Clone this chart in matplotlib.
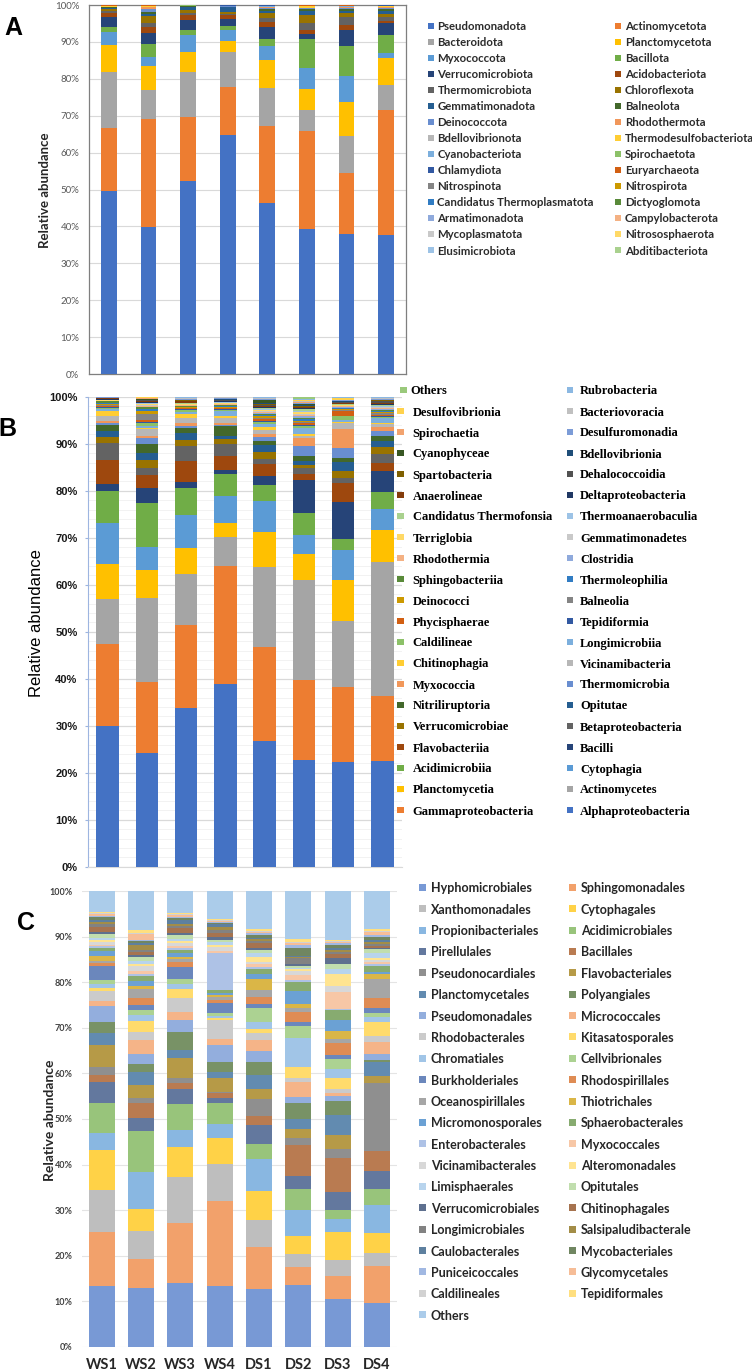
import numpy as np
import matplotlib
matplotlib.use("Agg")
import matplotlib.pyplot as plt
from matplotlib.patches import Rectangle
from matplotlib.ticker import MultipleLocator, FuncFormatter
from matplotlib import colors as mcolors

samples = ["WS1", "WS2", "WS3", "WS4", "DS1", "DS2", "DS3", "DS4"]

# ---------------- Panel A : phyla ----------------
phyla = ["Pseudomonadota", "Actinomycetota", "Bacteroidota", "Planctomycetota", "Myxococcota",
         "Bacillota", "Verrucomicrobiota", "Acidobacteriota", "Thermomicrobiota", "Chloroflexota",
         "Gemmatimonadota", "Balneolota", "Deinococcota", "Rhodothermota", "Bdellovibrionota",
         "Thermodesulfobacteriota", "Cyanobacteriota", "Spirochaetota", "Chlamydiota", "Euryarchaeota",
         "Nitrospinota", "Nitrospirota", "Candidatus Thermoplasmatota", "Dictyoglomota", "Armatimonadota",
         "Campylobacterota", "Mycoplasmatota", "Nitrososphaerota", "Elusimicrobiota", "Abditibacteriota"]

phylum_WS1 = [49.7, 17.1, 15.3, 7.4, 3.3, 1.5, 2.7, 1.1, 0.5, 0.45, 0.4, 0.15, 0.08, 0.07, 0.05,
              0.2, 0.04, 0.03, 0.03, 0.02, 0.02, 0.02, 0.02, 0.01, 0.01, 0.01, 0.01, 0.01, 0.01, 0.01]
phylum_WS2 = [40.0, 29.3, 7.9, 6.3, 2.5, 3.5, 3.0, 1.6, 1.2, 1.8, 0.6, 0.6, 0.7, 0.6, 0.1,
              0.1, 0.08, 0.05, 0.04, 0.03, 0.02, 0.02, 0.02, 0.01, 0.01, 0.01, 0.01, 0.01, 0.01, 0.01]
phylum_WS3 = [52.3, 17.4, 12.4, 5.3, 4.6, 1.5, 2.6, 1.3, 0.5, 0.9, 0.9, 0.1, 0.05, 0.05, 0.02,
              0.02, 0.1, 0.02, 0.02, 0.01, 0.01, 0.01, 0.01, 0.01, 0.01, 0.01, 0.01, 0.01, 0.01, 0.01]
phylum_WS4 = [64.7, 13.0, 9.5, 3.0, 3.1, 1.1, 1.8, 1.1, 0.4, 0.5, 1.3, 0.1, 0.08, 0.05, 0.05,
              0.05, 0.03, 0.02, 0.02, 0.02, 0.01, 0.01, 0.01, 0.01, 0.01, 0.01, 0.01, 0.01, 0.01, 0.01]
phylum_DS1 = [46.4, 21.0, 10.1, 7.8, 3.7, 2.0, 3.3, 1.2, 1.2, 1.2, 0.7, 0.5, 0.2, 0.2, 0.1,
              0.05, 0.3, 0.05, 0.03, 0.02, 0.02, 0.01, 0.01, 0.01, 0.01, 0.01, 0.01, 0.01, 0.01, 0.01]
phylum_DS2 = [39.2, 26.7, 5.6, 5.8, 5.7, 7.7, 1.3, 1.2, 2.0, 1.9, 1.3, 0.5, 0.1, 0.1, 0.1,
              0.4, 0.05, 0.1, 0.05, 0.03, 0.02, 0.01, 0.01, 0.01, 0.01, 0.01, 0.01, 0.01, 0.01, 0.01]
phylum_DS3 = [37.9, 16.6, 9.8, 9.2, 7.3, 7.9, 4.3, 1.6, 2.1, 0.9, 0.6, 0.6, 0.2, 0.3, 0.1,
              0.05, 0.05, 0.2, 0.05, 0.03, 0.02, 0.01, 0.01, 0.01, 0.01, 0.01, 0.01, 0.01, 0.01, 0.01]
phylum_DS4 = [37.7, 33.9, 6.7, 7.3, 1.5, 4.8, 3.1, 0.7, 1.0, 1.0, 0.8, 0.4, 0.3, 0.3, 0.1,
              0.1, 0.1, 0.05, 0.03, 0.02, 0.02, 0.01, 0.01, 0.01, 0.01, 0.01, 0.01, 0.01, 0.01, 0.01]

# ---------------- Panel B : classes ----------------
classes = ["Alphaproteobacteria", "Gammaproteobacteria", "Actinomycetes", "Planctomycetia", "Cytophagia",
           "Acidimicrobiia", "Bacilli", "Flavobacteriia", "Betaproteobacteria", "Verrucomicrobiae",
           "Opitutae", "Nitriliruptoria", "Thermomicrobia", "Myxococcia", "Vicinamibacteria",
           "Chitinophagia", "Longimicrobiia", "Caldilineae", "Tepidiformia", "Phycisphaerae",
           "Balneolia", "Deinococci", "Thermoleophilia", "Sphingobacteriia", "Clostridia",
           "Rhodothermia", "Gemmatimonadetes", "Terriglobia", "Thermoanaerobaculia", "Candidatus Thermofonsia",
           "Deltaproteobacteria", "Anaerolineae", "Dehalococcoidia", "Spartobacteria", "Bdellovibrionia",
           "Cyanophyceae", "Desulfuromonadia", "Spirochaetia", "Bacteriovoracia", "Desulfovibrionia",
           "Rubrobacteria", "Others"]

class_WS1 = [30.0, 17.5, 9.4, 7.5, 8.8, 6.7, 1.5, 5.2, 3.7, 1.3, 1.2, 1.2, 0.5, 0.5, 1.0, 1.0, 0.4, 0.3,
             0.2, 0.3, 0.2, 0.2, 0.2, 0.3,
             0.05, 0.05, 0.05, 0.05, 0.05, 0.05, 0.15, 0.15, 0.05, 0.05, 0.05, 0.05, 0.03, 0.03, 0.03,
             0.03, 0.03, 0.03]
class_WS2 = [24.2, 15.2, 17.9, 5.9, 4.9, 9.3, 3.2, 2.8, 1.6, 1.6, 1.6, 1.9, 1.1, 0.6, 1.4, 0.3, 0.4, 0.5,
             0.4, 0.4, 1.3, 0.5, 0.5,
             0.3, 0.2, 0.2, 0.2, 0.2, 0.1, 0.1, 0.2, 0.2, 0.1, 0.1, 0.1, 0.1, 0.1, 0.1, 0.1, 0.05, 0.05, 0.1]
class_WS3 = [33.8, 17.7, 10.9, 5.4, 7.0, 5.9, 1.2, 4.5, 3.2, 1.3, 1.4, 1.1, 0.5, 0.5, 1.1, 0.8, 0.5, 0.4,
             0.2, 0.15, 0.15, 0.1, 0.15, 0.1, 0.1, 0.1, 0.1, 0.1, 0.1, 0.1, 0.1, 0.3, 0.1, 0.1, 0.1, 0.1,
             0.1, 0.1, 0.1, 0.1, 0.1, 0.1]
class_WS4 = [38.9, 25.0, 6.3, 3.0, 5.7, 4.6, 0.9, 2.9, 2.6, 1.2, 0.6, 2.0, 0.3, 0.5, 1.0, 0.5, 1.0,
             0.2, 0.15, 0.2, 0.15, 0.15, 0.15, 0.2, 0.1, 0.15, 0.1, 0.15, 0.1, 0.1, 0.1, 0.15, 0.1, 0.1,
             0.1, 0.1, 0.1, 0.1, 0.1, 0.05, 0.05, 0.05]
class_DS1 = [26.8, 20.0, 17.0, 7.6, 6.5, 3.4, 2.1, 2.4, 1.1, 1.5, 1.4, 0.9, 0.9, 0.7, 0.7, 0.8, 0.5, 0.5,
             0.3, 0.3, 0.3, 0.3, 0.2, 0.3, 0.2, 0.2, 0.2, 0.3, 0.2, 0.2, 0.2, 0.2, 0.2, 0.2, 0.2, 0.8,
             0.1, 0.1, 0.1, 0.1, 0.1, 0.1]
class_DS2 = [22.8, 16.9, 21.4, 5.6, 4.0, 4.7, 6.9, 1.4, 1.3, 0.5, 1.0, 0.9, 2.2, 1.6, 0.5, 0.5, 1.2,
             0.4, 0.3, 0.3, 0.3, 0.3, 0.3, 0.3, 0.3, 0.3, 0.3, 0.3, 0.3, 0.3, 0.2, 0.2, 0.2, 0.2, 0.2,
             0.2, 0.2, 0.2, 0.2, 0.2, 0.2, 0.5]
class_DS3 = [22.3, 15.9, 14.0, 8.7, 6.4, 2.2, 7.9, 4.1, 1.1, 1.5, 1.9, 0.7, 2.3, 3.9, 1.3, 0.3, 0.4, 0.7,
             0.2, 1.0,
             0.2, 0.2, 0.15, 0.15, 0.15, 0.15, 0.1, 0.1, 0.1, 0.1, 0.15, 0.15, 0.1, 0.1, 0.1, 0.1, 0.1,
             0.1, 0.1, 0.4, 0.1, 0.1]
class_DS4 = [22.6, 13.7, 28.7, 6.8, 4.4, 3.7, 4.4, 1.6, 1.9, 1.6, 1.2, 1.2, 1.0, 0.9, 0.5, 0.4, 0.9,
             0.3, 0.2, 0.3, 0.3, 0.2, 0.2, 0.2, 0.2, 0.2, 0.2, 0.2, 0.2, 0.2, 0.2, 0.2, 0.4, 0.1, 0.1,
             0.1, 0.1, 0.1, 0.1, 0.1, 0.1, 0.1]

# ---------------- Panel C : orders ----------------
orders = ["Hyphomicrobiales", "Sphingomonadales", "Xanthomonadales", "Cytophagales", "Propionibacteriales",
          "Acidimicrobiales", "Pirellulales", "Bacillales", "Pseudonocardiales", "Flavobacteriales",
          "Planctomycetales", "Polyangiales", "Pseudomonadales", "Micrococcales", "Rhodobacterales",
          "Kitasatosporales", "Chromatiales", "Cellvibrionales", "Burkholderiales", "Rhodospirillales",
          "Oceanospirillales", "Thiotrichales", "Micromonosporales", "Sphaerobacterales", "Enterobacterales",
          "Myxococcales", "Vicinamibacterales", "Alteromonadales", "Limisphaerales", "Opitutales",
          "Verrucomicrobiales", "Chitinophagales", "Longimicrobiales", "Salsipaludibacterale", "Caulobacterales",
          "Mycobacteriales", "Puniceicoccales", "Glycomycetales", "Caldilineales", "Tepidiformales", "Others"]

order_WS1 = [13.4, 11.8, 9.3, 8.6, 3.8, 6.6, 4.7, 1.4, 1.7, 4.9,
             2.6, 2.5, 3.5, 1.1, 2.2, 0.7, 0.8, 0.9, 3.1, 0.7,
             0.4, 1.0, 1.1, 0.7, 0.4, 0.3, 0.6, 0.4, 0.5, 0.9,
             0.5, 1.0, 0.7, 0.3, 0.5, 0.6, 0.4, 0.3, 0.2, 0.2, 4.7]
order_WS2 = [13.0, 6.3, 6.1, 4.9, 8.1, 9.0, 2.9, 3.1, 1.3, 2.7,
             3.0, 1.6, 2.2, 3.1, 1.8, 2.4, 1.3, 1.1, 1.1, 1.6,
             1.8, 0.8, 1.1, 1.1, 0.5, 0.5, 1.1, 0.4, 0.7, 1.0,
             0.3, 0.8, 0.3, 1.1, 0.5, 0.4, 0.3, 1.3, 0.1, 0.7, 8.6]
order_WS3 = [14.1, 13.2, 9.9, 6.6, 3.7, 5.8, 3.2, 1.3, 1.2, 4.3,
             1.8, 3.9, 2.7, 1.8, 3.1, 1.8, 1.1, 1.3, 2.6, 1.1,
             0.5, 0.6, 0.9, 0.5, 0.6, 0.3, 0.7, 0.4, 0.4, 0.9,
             0.5, 1.0, 0.5, 0.4, 0.9, 0.4, 0.4, 0.3, 0.2, 0.2, 4.9]
order_WS4 = [13.4, 18.6, 8.2, 5.7, 2.9, 4.6, 1.3, 0.9, 0.4, 3.0,
             1.4, 2.2, 3.6, 1.3, 4.2, 0.4, 0.5, 0.7, 2.1, 0.8,
             0.6, 0.5, 0.4, 0.6, 8.0, 0.5, 0.9, 0.4, 0.7, 0.4,
             0.8, 0.7, 0.7, 0.7, 0.6, 0.3, 0.2, 0.2, 0.2, 0.2, 6.2]
order_DS1 = [12.8, 9.1, 5.9, 6.4, 7.0, 3.3, 4.1, 2.1, 3.6, 2.2,
             3.1, 3.0, 2.3, 2.4, 1.5, 1.0, 1.5, 3.1, 0.8, 1.5,
             1.6, 2.4, 1.1, 1.0, 0.5, 0.8, 0.4, 1.0, 0.9, 0.6,
             0.6, 1.1, 0.4, 0.3, 0.4, 0.5, 0.4, 0.4, 0.2, 0.4, 8.3]
order_DS2 = [13.6, 3.9, 3.0, 3.8, 5.8, 4.5, 3.0, 6.7, 1.5, 1.9,
             2.2, 3.6, 1.4, 3.3, 0.9, 2.4, 6.3, 2.6, 0.9, 2.2,
             0.9, 0.8, 2.9, 2.0, 0.4, 1.1, 0.9, 0.3, 0.4, 0.3,
             0.4, 0.2, 1.1, 0.4, 0.2, 1.6, 0.7, 0.4, 0.4, 0.5, 10.6]
order_DS3 = [10.5, 5.1, 3.5, 6.1, 2.8, 2.0, 3.9, 7.6, 1.9, 3.0,
             4.5, 3.1, 1.1, 0.7, 0.7, 2.6, 1.9, 2.1, 0.9, 2.6,
             0.9, 1.9, 2.3, 2.2, 0.2, 3.8, 1.3, 2.6, 1.0, 1.2,
             1.4, 0.7, 0.5, 0.4, 0.4, 0.7, 0.4, 0.3, 0.2, 0.3, 10.7]
order_DS4 = [9.7, 8.0, 2.9, 4.5, 6.0, 3.6, 3.9, 4.4, 14.8, 1.6,
             3.2, 0.3, 1.3, 2.7, 1.4, 3.0, 1.1, 0.8, 1.2, 2.2,
             4.0, 1.3, 0.4, 1.3, 0.3, 0.6, 0.4, 0.3, 1.3, 0.7,
             0.4, 0.3, 0.4, 0.6, 0.3, 0.8, 0.4, 0.5, 0.3, 0.4, 8.4]

# Office-style series palette
palette = ['#4472C4', '#ED7D31', '#A5A5A5', '#FFC000', '#5B9BD5', '#70AD47',
           '#264478', '#9E480E', '#636363', '#997300', '#255E91', '#43682B',
           '#698ED0', '#F1975A', '#B7B7B7', '#FFCD33', '#7CAFDD', '#8CC168',
           '#3259A2', '#D25F12', '#848484', '#CC9900', '#317CC3', '#598A39',
           '#8FAADC', '#F4B183', '#C9C9C9', '#FFD966', '#9DC3E6', '#A9D18E',
           '#203864', '#843C0B', '#525252', '#7F6000', '#1F4E79', '#385723',
           '#7C9CD7', '#F2A36F', '#C0C0C0', '#FFD24D', '#8BB8E2', '#9AC97B']


def soften(c, a=0.72):
    r, g, b = mcolors.to_rgb(c)
    return (r * a + 1 - a, g * a + 1 - a, b * a + 1 - a)


palette_soft = [soften(c) for c in palette]

W, H = 752, 1371
fig = plt.figure(figsize=(W / 100, H / 100), dpi=100)
LATO = ['Lato', 'DejaVu Sans']
ARIAL = ['Liberation Sans', 'DejaVu Sans']
TIMES = ['Liberation Serif', 'DejaVu Serif']


def fx(x):
    return x / W


def fy(y):
    return 1 - y / H


def px_axes(left, top, right, bottom):
    return fig.add_axes([left / W, 1 - bottom / H, (right - left) / W, (bottom - top) / H])


def draw_stack(ax, rows, colors, width):
    M = np.array(rows, dtype=float)
    M = M / M.sum(axis=1, keepdims=True) * 100.0
    x = np.arange(M.shape[0])
    bottom = np.zeros(M.shape[0])
    for j in range(M.shape[1]):
        ax.bar(x, M[:, j], width=width, bottom=bottom, color=colors[j], linewidth=0, zorder=3)
        bottom += M[:, j]
    ax.set_xlim(-0.5, M.shape[0] - 0.5)
    ax.set_ylim(0, 100)


pct = FuncFormatter(lambda v, p: f"{v:.0f}%")


def legend_entry(xm, xt, y, size, fc, label, **kw):
    fig.add_artist(Rectangle((fx(xm - size / 2), fy(y + size / 2)), size / W, size / H,
                             transform=fig.transFigure, facecolor=fc, edgecolor='none'))
    fig.text(fx(xt), fy(y), label, ha='left', va='center_baseline', **kw)


# ================= Panel A =================
axA = px_axes(89, 5, 406, 374)
draw_stack(axA, [phylum_WS1, phylum_WS2, phylum_WS3, phylum_WS4,
                 phylum_DS1, phylum_DS2, phylum_DS3, phylum_DS4], palette, 0.40)
axA.yaxis.set_major_locator(MultipleLocator(10))
axA.yaxis.set_major_formatter(pct)
axA.grid(axis='y', color='#D9D9D9', lw=0.8, zorder=0)
axA.set_xticks([])
axA.tick_params(axis='y', length=0, pad=7, labelsize=7, labelcolor='#595959')
for t in axA.get_yticklabels():
    t.set_family(LATO)
for s in axA.spines.values():
    s.set_color('#7F7F7F')
    s.set_linewidth(0.9)

for i, name in enumerate(phyla):
    r, c = divmod(i, 2)
    legend_entry([431, 618][c], [437.5, 625][c], 25.6 + r * 16.03, 6, palette[i], name,
                 fontsize=8.2, family=LATO, fontweight='bold', color='#2B2B2B')

fig.text(fx(45), fy(190), 'Relative abundance', rotation=90, ha='center', va='center',
         fontsize=9.5, family=LATO, fontweight='bold', color='#262626')
fig.text(fx(13.5), fy(28), 'A', ha='center', va='center', fontsize=18, family=ARIAL,
         fontweight='bold', color='black')

# ================= Panel B =================
axB = px_axes(88, 396.7, 402, 866.7)
draw_stack(axB, [class_WS1, class_WS2, class_WS3, class_WS4,
                 class_DS1, class_DS2, class_DS3, class_DS4], palette, 0.57)
axB.yaxis.set_major_locator(MultipleLocator(10))
axB.yaxis.set_minor_locator(MultipleLocator(2))
axB.yaxis.set_major_formatter(pct)
axB.grid(axis='y', which='major', color='#D9D9D9', lw=0.9, zorder=0)
axB.grid(axis='y', which='minor', color='#F0F0F0', lw=0.6, zorder=0)
axB.set_xticks([])
axB.tick_params(axis='y', which='major', length=2, color='#9DB5E0', pad=5.5, labelsize=8,
                labelcolor='#1A1A1A')
axB.tick_params(axis='y', which='minor', length=0)
for t in axB.get_yticklabels():
    t.set_family(ARIAL)
    t.set_fontweight('bold')
axB.spines['top'].set_visible(False)
axB.spines['right'].set_visible(False)
axB.spines['left'].set_color('#9DB5E0')
axB.spines['bottom'].set_color('#D9D9D9')

for r in range(21):
    y = 390 + 21.0 * r
    li, ri = 41 - 2 * r, 40 - 2 * r
    if r == 0:
        legend_entry(403.3, 410, y, 6.5, palette[li], classes[li],
                     fontsize=9, family=TIMES, fontweight='bold', color='black')
    else:
        legend_entry(400.5, 412.7, y, 6.5, palette[li], classes[li],
                     fontsize=9, family=TIMES, fontweight='bold', color='black')
    legend_entry(570, 580, y, 6.5, palette[ri], classes[ri],
                 fontsize=9, family=TIMES, fontweight='bold', color='black')

fig.text(fx(37), fy(623), 'Relative abundance', rotation=90, ha='center', va='center',
         fontsize=12, family=ARIAL, color='black')
fig.text(fx(7.5), fy(429), 'B', ha='center', va='center', fontsize=18, family=ARIAL,
         fontweight='bold', color='black')

# ================= Panel C =================
axC = px_axes(82, 891, 396.6, 1347)
draw_stack(axC, [order_WS1, order_WS2, order_WS3, order_WS4,
                 order_DS1, order_DS2, order_DS3, order_DS4], palette_soft, 0.66)
axC.yaxis.set_major_locator(MultipleLocator(10))
axC.yaxis.set_major_formatter(pct)
axC.grid(axis='y', color='#E4E4E4', lw=0.8, zorder=0)
axC.set_xticks(np.arange(len(samples)))
axC.set_xticklabels(samples)
axC.tick_params(axis='x', length=0, pad=8, labelsize=10.5, labelcolor='#262626')
axC.tick_params(axis='y', length=0, pad=6.7, labelsize=6.5, labelcolor='#404040')
for t in axC.get_xticklabels():
    t.set_family(LATO)
    t.set_fontweight('bold')
for t in axC.get_yticklabels():
    t.set_family(LATO)
    t.set_fontweight('bold')
for s in axC.spines.values():
    s.set_visible(False)

for i, name in enumerate(orders):
    r, c = divmod(i, 2)
    legend_entry([422, 572.5][c], [430.7, 580.7][c], 887.3 + r * 21.37, 7, palette_soft[i], name,
                 fontsize=9, family=LATO, fontweight='bold', color='#262626')

fig.text(fx(50), fy(1120), 'Relative abundance', rotation=90, ha='center', va='center',
         fontsize=10, family=LATO, fontweight='bold', color='#262626')
fig.text(fx(26), fy(923), 'C', ha='center', va='center', fontsize=18, family=ARIAL,
         fontweight='bold', color='black')

fig.savefig('out.png', dpi=100)
